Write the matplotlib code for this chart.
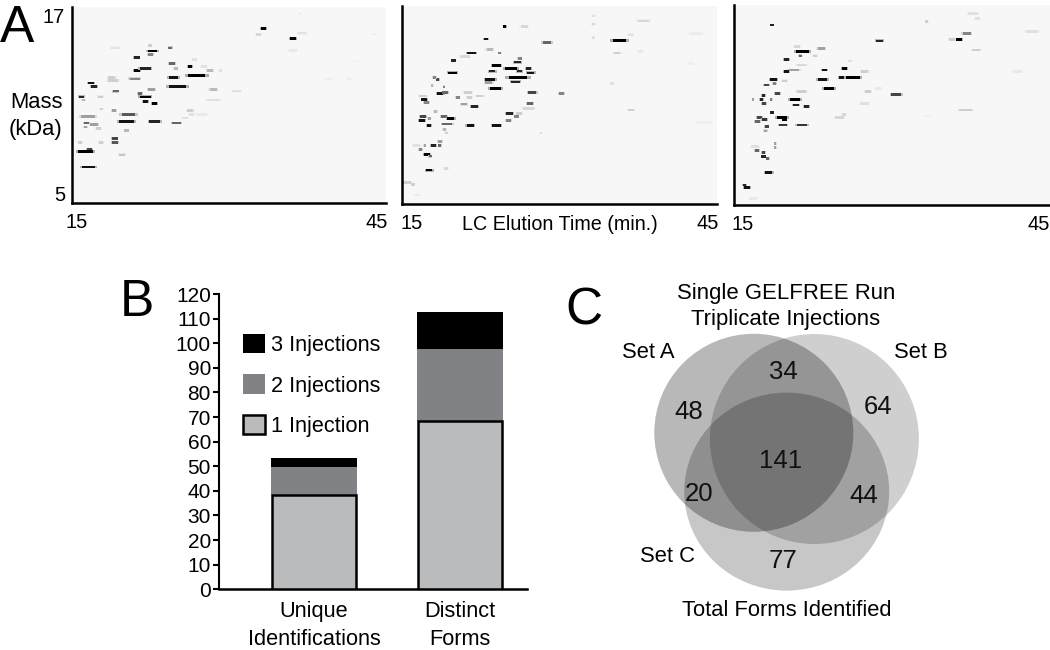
import matplotlib
matplotlib.use("Agg")
import matplotlib.pyplot as plt
from matplotlib.patches import Ellipse

plt.rcParams['font.family'] = ['Liberation Sans', 'DejaVu Sans']

# (time min, mass kDa, streak width min, darkness 0-1)
spots_a = [
 (33.3,15.7,.5,1),(36.1,15.06,.6,1),(32.8,15.3,.5,.25),(37.0,15.4,.8,.2),(36.1,14.35,.7,.15),
 (22.7,14.3,.9,1),(22.5,14.1,.5,.6),(22.45,14.65,.3,.3),(24.4,14.5,.4,.7),(19.1,14.5,.7,.2),
 (21.2,13.9,.5,.9),(24.55,13.55,.6,.7),(26.3,13.35,.4,1),(26.7,13.8,.4,.2),(21.2,13.1,.6,1),
 (22.0,13.25,1.0,.9),(24.9,13.25,.4,.4),(27.6,13.35,.6,.2),(28.2,13.1,.6,.4),(29.2,13.1,.3,.2),
 (26.9,12.8,1.7,1),(24.7,12.7,.9,.95),(21.0,12.6,.9,.6),(18.8,12.7,.7,.3),(18.9,12.5,1.0,.3),
 (16.8,12.35,.6,.95),(17.1,12.15,.6,.9),(25.1,12.15,1.6,.95),(22.6,11.95,.6,.5),(28.5,11.95,.7,.4),
 (30.7,11.85,.8,.2),(19.2,11.85,.5,.7),(15.9,11.5,.5,.9),(17.7,11.5,.5,.3),(22.0,11.5,1,1),
 (21.5,11.7,.4,.7),(22.0,11.2,.5,.95),(22.9,11.1,.5,1),(28.5,11.3,1.2,.2),(16.1,11.3,.3,.4),
 (17.8,10.75,.3,.3),(19.0,10.65,.4,.5),(20.4,10.4,1.3,.75),(26.3,10.65,.6,.3),(26.4,10.4,.5,.2),
 (27.4,10.4,1,.15),(16.5,10.3,1.3,.5),(20.2,10.0,1.4,.95),(22.9,10.0,1.0,.9),(25.0,9.9,.8,.7),
 (25.8,10.2,.5,.2),(16.4,9.9,.5,.7),(17.1,9.8,.7,.5),(16.3,9.65,.3,.5),(17.5,9.55,.5,.3),
 (20.2,9.45,.4,.4),(19.1,8.95,.5,.8),(19.1,8.7,.6,.75),(15.8,8.7,.4,.3),(17.8,8.7,.4,.3),
 (16.3,8.15,1.4,1),(16.7,8.3,.5,.8),(19.8,7.95,.6,.35),(16.6,7.2,1.2,.95),
 (36.8,16.6,.3,.1),(43.8,15.35,.4,.1),(41.5,12.6,.4,.12),(39.5,12.6,.8,.1),(42.1,13.7,.8,.07),
]
spots_b = [
 (24.8,15.75,.3,1),(26.65,15.75,.7,.25),(23.0,15.0,.4,.95),(28.8,14.8,.8,.7),(35.7,14.9,1.3,1),
 (21.6,14.15,.8,.95),(23.35,14.35,.6,.4),(24.3,14.15,.3,.6),(21.0,13.95,.9,.25),(19.9,13.7,.4,.9),
 (26.2,13.8,.4,.6),(26.0,13.6,.7,.9),(24.0,13.4,.8,1),(25.4,13.2,1.1,1),(23.6,13.05,.6,.9),
 (26.2,13.05,.5,.9),(27.05,13.2,.5,.9),(27.25,12.95,.7,.95),(19.8,12.95,.8,1),(26.05,12.65,1.8,1),
 (23.4,12.55,.9,.95),(23.25,12.35,.7,.5),(25.8,12.4,.8,.9),(18.4,12.55,.3,.8),(18.1,12.65,.3,.6),
 (17.9,12.2,.2,.4),(19.0,12.1,.2,.6),(23.9,12.0,1.1,1),(18.65,11.7,.6,.95),(19.1,11.75,.5,.7),
 (21.3,11.75,.7,.3),(27.4,11.75,.8,.8),(30.2,11.7,.5,.6),(22.4,11.55,.7,.3),(20.3,11.45,.4,.6),
 (21.4,11.45,.5,.3),(17.1,11.35,.5,.95),(17.0,11.55,.7,.3),(17.3,11.15,.5,.6),(20.9,11.05,.6,.5),
 (21.9,10.9,.6,.9),(27.2,11.1,.6,.7),(27.05,10.8,1,.25),(18.2,10.6,.3,.4),(25.25,10.5,.6,.9),
 (26.15,10.5,.5,.3),(25.9,10.3,.4,.6),(25.15,10.05,.5,.6),(17.0,10.3,.6,.8),(16.9,10.05,.6,.95),
 (17.6,10.2,.3,.5),(19.0,10.3,.5,.7),(19.65,10.2,.7,1),(19.3,9.85,.9,.7),(17.55,9.75,.4,.95),
 (21.5,9.75,.7,.95),(24.0,9.75,.8,.95),(19.05,9.5,.3,.4),(19.2,9.3,.3,.3),(28.2,9.3,.2,.2),
 (17.15,8.55,.2,.5),(18.0,8.55,.5,.9),(18.6,8.8,.4,.5),(18.6,8.55,.3,.7),(16.4,8.55,.7,.2),
 (16.75,8.3,.3,.6),(17.4,8.0,.6,1),(17.7,7.9,.3,.7),(17.6,7.05,.6,1),(19.2,7.15,.4,.25),
 (15.5,6.3,.8,.3),(16.05,6.2,.3,.3),(16.4,5.55,.4,.15),(33.25,16.4,.3,.2),(33.25,15.9,.3,.25),
 (33.2,15.1,.3,.2),(38.0,16.1,1.1,.25),(36.8,15.25,.5,.2),(35.5,14.15,.6,.3),(37.7,14.25,.5,.15),
 (35.0,12.3,.3,.2),(36.8,10.7,.6,.3),(43.0,15.35,1.3,.12),(42.5,13.5,.6,.1),(43.7,9.95,1.4,.1),
]
spots_c = [
 (18.6,15.8,.3,.9),(28.8,14.85,.6,.9),(36.3,14.95,.7,1),(37.1,15.3,.8,.6),(35.7,14.95,.6,.3),
 (37.7,16.5,1,.2),(38.1,16.2,.5,.2),(33.3,16.0,.3,.3),(38.0,14.3,.8,.3),(43.3,15.4,1.2,.2),
 (21.5,14.2,1.2,1),(23.3,14.4,.7,.5),(21.0,14.5,.6,.25),(21.3,13.95,.3,.7),(22.7,13.95,.4,.3),
 (20.0,13.75,.5,.9),(21.4,13.4,.9,.25),(20.7,13.1,1,.5),(20.0,13.0,.5,.95),(23.6,13.1,.5,.95),
 (25.5,13.2,.5,1),(25.3,12.65,.7,.95),(26.3,12.65,1.3,1),(23.4,12.55,.9,.95),(18.75,12.55,.6,.95),
 (18.1,12.2,.5,.8),(18.85,12.3,.3,.6),(19.8,12.45,.5,.3),(24.0,12.0,1,1),(19.1,11.7,.5,.8),
 (21.4,11.8,.9,.3),(27.7,11.8,.6,.3),(30.4,11.65,.9,.8),(17.8,11.55,.3,.9),(17.6,11.35,.3,.9),
 (16.8,11.35,.2,.5),(18.55,11.35,.2,.6),(20.8,11.35,1,1),(17.85,11.1,.4,.8),(20.9,11.0,.6,.9),
 (21.9,10.9,.5,.9),(27.4,11.1,.8,.2),(18.6,10.55,.3,.9),(19.55,10.25,1,1),(19.8,10.15,.4,1),
 (17.45,10.25,.5,.8),(17.9,10.15,.5,.85),(17.2,10.0,.5,.7),(19.65,9.8,.7,.85),(21.45,9.8,1,.85),
 (18.1,9.7,.4,.8),(18.0,9.45,.3,.5),(25.0,10.25,.8,.25),(25.45,10.45,.4,.25),(18.9,8.7,.2,.5),
 (18.9,8.45,.2,.5),(17.0,8.5,.7,.2),(17.2,8.25,.4,.7),(17.8,8.15,.3,.8),(17.8,7.9,.4,.9),
 (18.2,7.8,.3,.7),(18.3,6.95,.7,.95),(16.0,6.2,.3,.9),(16.25,6.05,.6,.95),(16.8,5.4,.7,.15),
 (37.0,10.7,1.2,.3),(33.4,10.35,.7,.1),(41.9,13.0,.8,.15),(28.7,12.0,.6,.15),(26.0,13.65,.4,.2),
 (27.4,13.0,.7,.3),
]

categories = ['Unique\nIdentifications', 'Distinct\nForms']
one_injection = [38.5, 68.5]
two_injections = [11, 29]
three_injections = [4, 15]
bar_ticks = list(range(0, 121, 10))

venn_counts = ['48', '34', '64', '20', '141', '44', '77']

W, H = 1050, 650
fig = plt.figure(figsize=(W / 100, H / 100), dpi=100, facecolor='white')

def px_axes(l, t, r, b):
    return fig.add_axes([l / W, 1 - b / H, (r - l) / W, (b - t) / H])

def panel(box, spots, xticks, yticks=None):
    ax = px_axes(*box)
    ax.set_facecolor('#f7f7f7')
    ax.set_xlim(15, 45)
    ax.set_ylim(5, 17)
    for s in ('top', 'right'):
        ax.spines[s].set_visible(False)
    for s in ('left', 'bottom'):
        ax.spines[s].set_linewidth(1.8)
    for t, m, w, d in spots:
        tone = d ** 1.5
        halo = str(round(0.97 - 0.97 * tone * 0.3, 3))
        core = str(round(0.97 * (1 - tone), 3))
        ax.barh(m, w * 1.35, left=t - w * 0.675, height=0.17, color=halo, linewidth=0)
        ax.barh(m, w, left=t - w / 2, height=0.16, color=core, linewidth=0)
    ax.set_xticks(xticks, ['15', '45'], fontsize=14.5)
    ax.tick_params(axis='x', length=0, pad=7)
    if yticks:
        ax.set_yticks(yticks, ['5', '17'], fontsize=14.5)
        ax.tick_params(axis='y', length=0, pad=5)
    else:
        ax.set_yticks([])
    return ax

panel((72, 7, 386, 203), spots_a, [15.4, 44.1], [5.6, 16.5])
panel((402, 6, 717, 204), spots_b, [15.9, 44.1])
panel((734, 5, 1050, 205), spots_c, [15.8, 43.96])

# Panel B
axb = px_axes(219.3, 294, 527, 589.3)
axb.set_xlim(-0.649, 1.459)
axb.set_ylim(0, 120)
x = [0, 1]
b1 = axb.bar(x, one_injection, width=0.575, color='#b9bbbd', edgecolor='black', linewidth=1.8, label='1 Injection', zorder=3)
bottom2 = one_injection
b2 = axb.bar(x, two_injections, width=0.585, bottom=bottom2, color='#808285', label='2 Injections', zorder=2)
bottom3 = [a + c for a, c in zip(one_injection, two_injections)]
b3 = axb.bar(x, three_injections, width=0.585, bottom=bottom3, color='black', label='3 Injections', zorder=2)
for s in ('top', 'right'):
    axb.spines[s].set_visible(False)
axb.spines['left'].set_linewidth(1.5)
axb.spines['bottom'].set_linewidth(1.8)
axb.set_yticks(bar_ticks)
axb.set_xticks(x, categories, fontsize=15.7, linespacing=1.4)
axb.tick_params(axis='y', labelsize=15, length=4, width=1.5, pad=2)
axb.tick_params(axis='x', length=0, pad=8.5)
leg = axb.legend(handles=[b3, b2, b1], loc='upper left', bbox_to_anchor=(0.078, 0.865), frameon=False,
                 fontsize=15.6, handlelength=1.0, handleheight=1.0, labelspacing=0.85,
                 handletextpad=0.3, borderpad=0, borderaxespad=0)

# Overlay in figure pixels for panel letters, side labels and the Venn diagram
ov = fig.add_axes([0, 0, 1, 1], zorder=5)
ov.set_xlim(0, W)
ov.set_ylim(H, 0)
ov.axis('off')
ov.patch.set_alpha(0)

for label, (cx, cy) in zip('ABC', [(17, 29), (137, 303), (584, 311)]):
    ov.text(cx, cy, label, fontsize=37, ha='center', va='center')
ov.text(36, 102, 'Mass', fontsize=15.8, ha='center', va='center')
ov.text(36, 129, '(kDa)', fontsize=15.8, ha='center', va='center')
ov.text(560, 224, 'LC Elution Time (min.)', fontsize=14.2, ha='center', va='center')

ov.add_patch(Ellipse((753.8, 432.8), 199, 198, fc='black', ec='none', alpha=0.28))
ov.add_patch(Ellipse((814.4, 439), 209, 210, fc='black', ec='none', alpha=0.19))
ov.add_patch(Ellipse((786.7, 491.6), 205, 198, fc='black', ec='none', alpha=0.22))

venn_xy = [(689, 412), (783, 372), (878, 407), (699, 494), (781, 461), (864, 496), (783, 561)]
for txt, (vx, vy) in zip(venn_counts, venn_xy):
    ov.text(vx, vy, txt, fontsize=18.5, ha='center', va='center', color='#111111')

ov.text(786, 294, 'Single GELFREE Run', fontsize=15.9, ha='center', va='center')
ov.text(786, 320, 'Triplicate Injections', fontsize=15.9, ha='center', va='center')
ov.text(648, 352, 'Set A', fontsize=15.8, ha='center', va='center')
ov.text(921, 352, 'Set B', fontsize=15.8, ha='center', va='center')
ov.text(668, 557, 'Set C', fontsize=15.8, ha='center', va='center')
ov.text(787, 610, 'Total Forms Identified', fontsize=15.8, ha='center', va='center')

fig.savefig('out.png', dpi=100)
